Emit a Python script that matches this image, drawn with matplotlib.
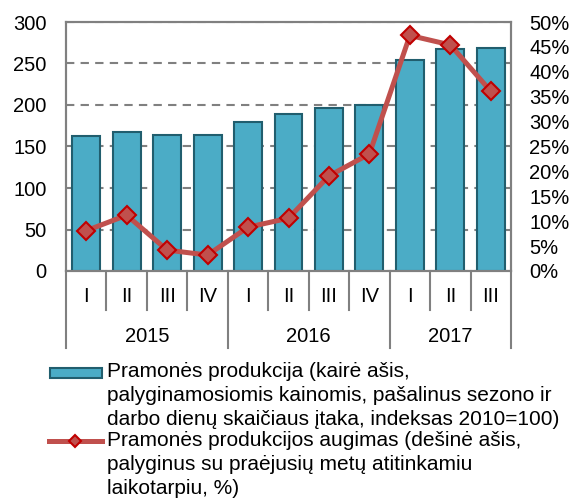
import matplotlib.pyplot as plt
import matplotlib.transforms as mtransforms
from matplotlib.patches import Rectangle
from matplotlib.lines import Line2D
import numpy as np

plt.rcParams['font.family'] = ['Liberation Sans', 'DejaVu Sans']

quarters = ["I", "II", "III", "IV", "I", "II", "III", "IV", "I", "II", "III"]
years = ["2015", "2016", "2017"]
year_counts = [4, 4, 3]
production = [163, 168, 164, 164, 180, 189, 196, 200, 254, 268, 269]
growth = [8.1, 11.2, 4.2, 3.2, 8.8, 10.6, 19.1, 23.5, 47.3, 45.4, 36.1]

bar_label = ("Pramonės produkcija (kairė ašis,\n"
             "palyginamosiomis kainomis, pašalinus sezono ir\n"
             "darbo dienų skaičiaus įtaka, indeksas 2010=100)")
line_label = ("Pramonės produkcijos augimas (dešinė ašis,\n"
              "palyginus su praėjusių metų atitinkamiu\n"
              "laikotarpiu, %)")

bar_color = '#4BACC6'
bar_edge = '#215E6E'
line_color = '#C0504D'
marker_edge = '#C00000'
grid_color = '#808080'
fs = 14.5

fig = plt.figure(figsize=(5.71, 5.0), dpi=100)
ax = fig.add_axes([66 / 571, 1 - 271 / 500, 445 / 571, 249 / 500])
ax2 = ax.twinx()

x = np.arange(len(quarters))
ax.bar(x, production, width=0.69, color=bar_color, edgecolor=bar_edge,
       linewidth=1.5, zorder=3)
ax.set_xlim(-0.5, len(quarters) - 0.5)
ax.set_ylim(0, 300)
ax.set_yticks(np.arange(0, 301, 50))
ax.yaxis.grid(True, linestyle=(0, (4, 3)), color=grid_color, linewidth=1.5, zorder=0)
ax.set_axisbelow(True)
ax.tick_params(axis='y', length=0, pad=14, labelsize=fs)
ax.set_xticks([])

ax2.plot(x, growth, color=line_color, linewidth=3.6, marker='D', markersize=9,
         markerfacecolor=line_color, markeredgecolor=marker_edge,
         markeredgewidth=1.5, zorder=4)
ax2.set_ylim(0, 50)
ax2.set_yticks(np.arange(0, 51, 5))
ax2.set_yticklabels([f"{v}%" for v in range(0, 51, 5)])
ax2.tick_params(axis='y', length=0, pad=13, labelsize=fs)

for a in (ax, ax2):
    for s in a.spines.values():
        s.set_color(grid_color)
        s.set_linewidth(1.5)

# category axis: quarters on top row, years below
trans = mtransforms.blended_transform_factory(ax.transData, ax.transAxes)
q_bottom = -39 / 249
y_bottom = -77 / 249
for i, q in enumerate(quarters):
    ax.text(i, -26 / 249, q, transform=trans, ha='center', va='center', fontsize=fs)
bounds = np.cumsum([0] + year_counts) - 0.5
for i in range(len(quarters) + 1):
    edge = i - 0.5
    bottom = y_bottom if edge in bounds else q_bottom
    ax.plot([edge, edge], [0, bottom], transform=trans, color=grid_color,
            linewidth=1.5, clip_on=False)
for yr, lo, hi in zip(years, bounds[:-1], bounds[1:]):
    ax.text((lo + hi) / 2, -65 / 249, yr, transform=trans, ha='center',
            va='center', fontsize=fs)

# legend drawn by hand so the keys line up with the first text line
fig.patches.append(Rectangle((50 / 571, 1 - 378 / 500), 52 / 571, 10 / 500,
                             transform=fig.transFigure, facecolor=bar_color,
                             edgecolor=bar_edge, linewidth=1.5))
fig.lines.append(Line2D([49 / 571, 102 / 571], [1 - 441 / 500] * 2,
                        transform=fig.transFigure, color=line_color, linewidth=3.6))
fig.lines.append(Line2D([75 / 571], [1 - 441 / 500], transform=fig.transFigure,
                        marker='D', markersize=6.5, markerfacecolor=line_color,
                        markeredgecolor=marker_edge, markeredgewidth=1.5))
fig.text(107 / 571, 1 - 362 / 500, bar_label, ha='left', va='top', fontsize=15,
         linespacing=1.32)
fig.text(107 / 571, 1 - 431 / 500, line_label, ha='left', va='top', fontsize=15,
         linespacing=1.32)

fig.savefig("out.png", dpi=100)
